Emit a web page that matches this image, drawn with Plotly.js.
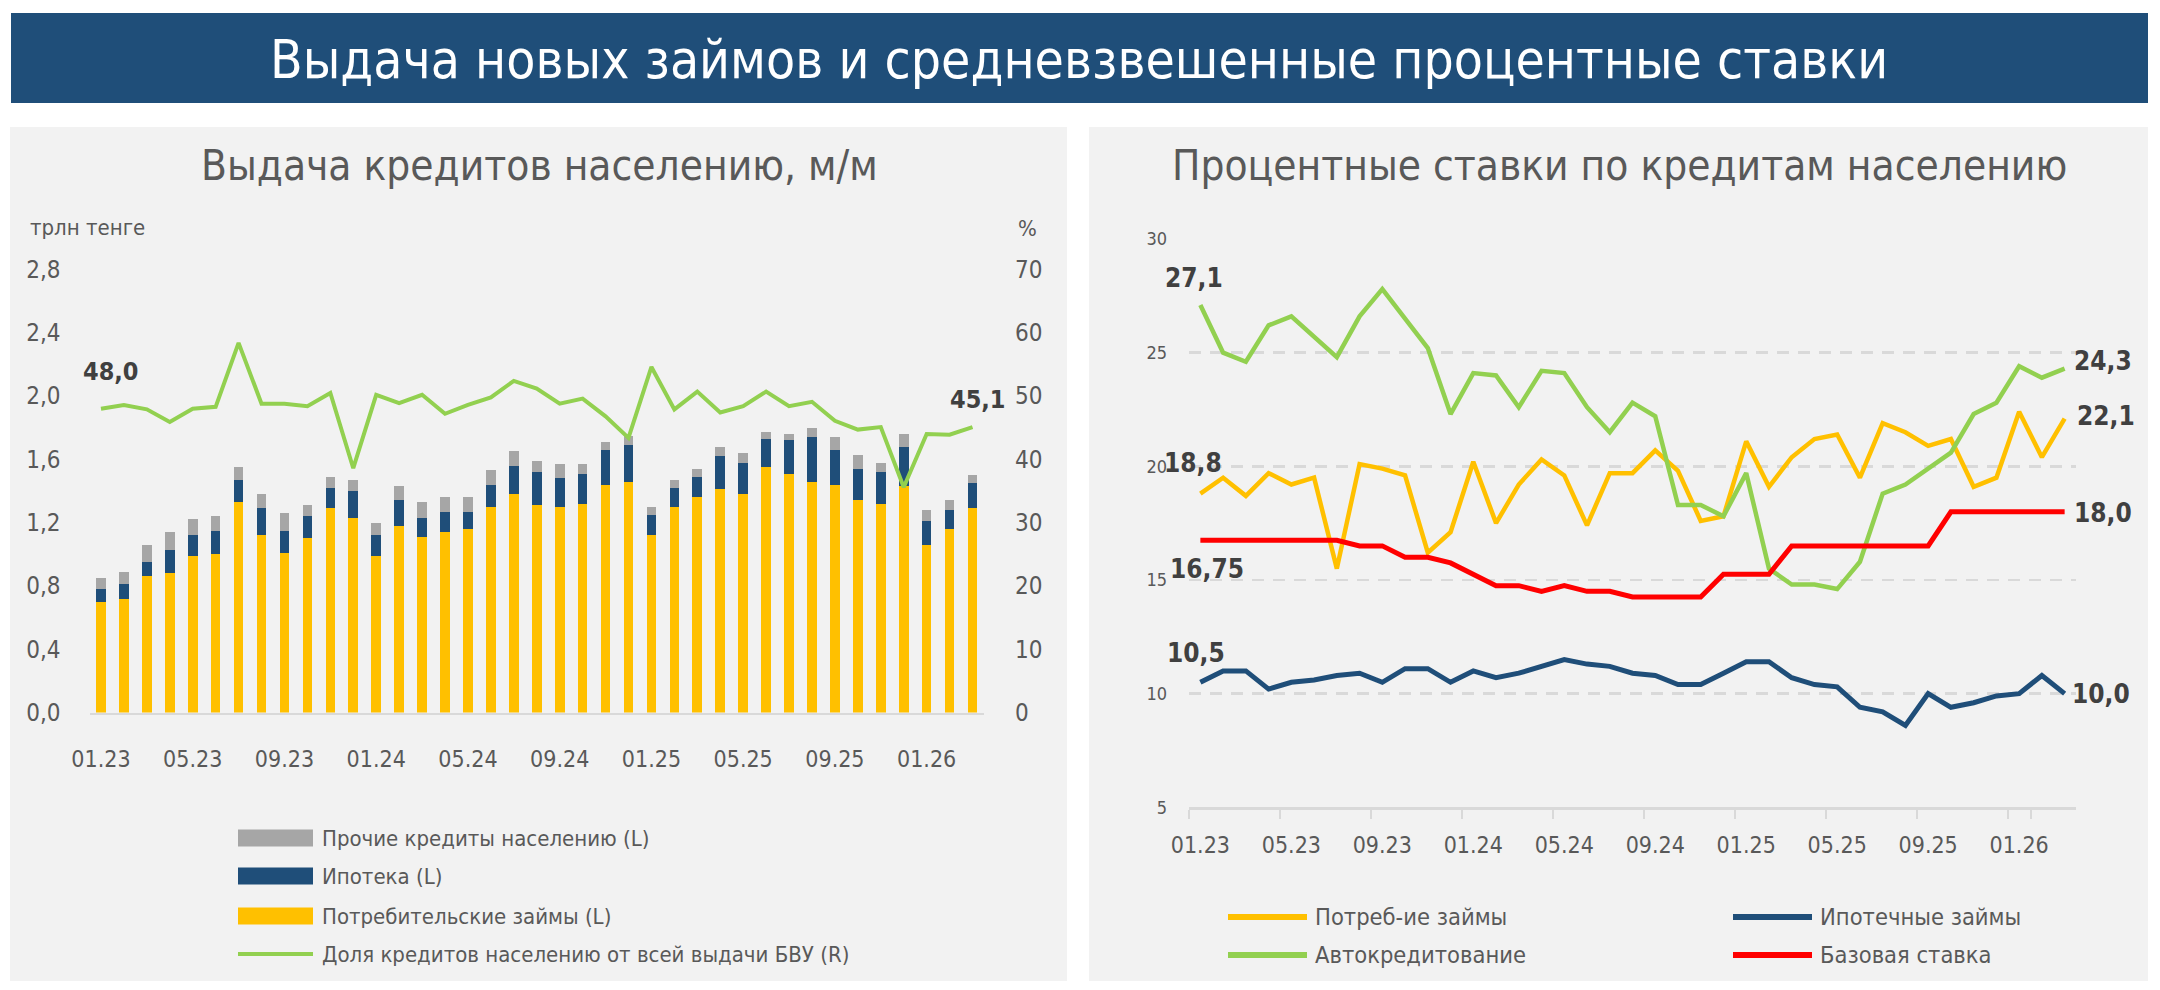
<!DOCTYPE html>
<html>
<head>
<meta charset="utf-8">
<script src="https://cdn.plot.ly/plotly-3.0.1.min.js"></script>
<style>
  html, body { margin: 0; padding: 0; background: #ffffff; }
  #chart { width: 2160px; height: 990px; }
</style>
</head>
<body>
<div id="chart"></div>
<script>
// ---- Months (01.23 … 03.26) ----
const months = [
  '01.23','02.23','03.23','04.23','05.23','06.23','07.23','08.23','09.23','10.23','11.23','12.23',
  '01.24','02.24','03.24','04.24','05.24','06.24','07.24','08.24','09.24','10.24','11.24','12.24',
  '01.25','02.25','03.25','04.25','05.25','06.25','07.25','08.25','09.25','10.25','11.25','12.25',
  '01.26','02.26','03.26'
];
const tickMonths = months.filter((m, i) => i % 4 === 0);

// ---- Left panel: monthly loan issuance to individuals, trillion tenge ----
const consumerLoans = [0.70,0.72,0.86,0.88,0.99,1.00,1.33,1.12,1.01,1.10,1.29,1.23,
                       0.99,1.18,1.11,1.14,1.16,1.30,1.38,1.31,1.30,1.32,1.44,1.46,
                       1.12,1.30,1.36,1.41,1.38,1.55,1.51,1.46,1.44,1.34,1.32,1.43,
                       1.06,1.16,1.29];
const mortgageLoans = [0.08,0.09,0.09,0.15,0.13,0.15,0.14,0.17,0.14,0.14,0.13,0.17,
                       0.13,0.16,0.12,0.13,0.11,0.14,0.18,0.21,0.18,0.19,0.22,0.23,
                       0.13,0.12,0.13,0.21,0.20,0.18,0.21,0.28,0.22,0.20,0.20,0.25,
                       0.15,0.12,0.16];
const otherLoans    = [0.07,0.08,0.11,0.11,0.10,0.09,0.08,0.09,0.11,0.07,0.07,0.07,
                       0.08,0.09,0.10,0.09,0.09,0.09,0.09,0.07,0.09,0.06,0.05,0.06,
                       0.05,0.05,0.05,0.06,0.06,0.04,0.04,0.06,0.08,0.09,0.06,0.08,
                       0.07,0.06,0.05];
// share of retail loans in all bank issuance, %
const retailShare   = [48.0,48.6,47.9,45.9,48.0,48.3,58.4,48.8,48.8,48.4,50.5,38.6,
                       50.2,48.9,50.2,47.2,48.6,49.8,52.4,51.2,48.8,49.6,46.8,43.4,
                       54.6,47.9,50.7,47.4,48.4,50.7,48.4,49.1,46.1,44.7,45.1,35.6,
                       44.0,43.9,45.1];

// ---- Right panel: interest rates on retail loans, % ----
const rateConsumer = [18.8,19.5,18.7,19.7,19.2,19.5,15.5,20.1,19.9,19.6,16.2,17.1,
                      20.2,17.5,19.2,20.3,19.6,17.4,19.7,19.7,20.7,19.8,17.6,17.8,
                      21.1,19.1,20.4,21.2,21.4,19.5,21.9,21.5,20.9,21.2,19.1,19.5,
                      22.4,20.4,22.1];
const rateMortgage = [10.5,11.0,11.0,10.2,10.5,10.6,10.8,10.9,10.5,11.1,11.1,10.5,
                      11.0,10.7,10.9,11.2,11.5,11.3,11.2,10.9,10.8,10.4,10.4,10.9,
                      11.4,11.4,10.7,10.4,10.3,9.4,9.2,8.6,10.0,9.4,9.6,9.9,
                      10.0,10.8,10.0];
const rateAuto     = [27.1,25.0,24.6,26.2,26.6,25.7,24.8,26.6,27.8,26.5,25.2,22.3,
                      24.1,24.0,22.6,24.2,24.1,22.6,21.5,22.8,22.2,18.3,18.3,17.8,
                      19.7,15.5,14.8,14.8,14.6,15.8,18.8,19.2,19.9,20.6,22.3,22.8,
                      24.4,23.9,24.3];
const baseRate     = [16.75,16.75,16.75,16.75,16.75,16.75,16.75,16.5,16.5,16.0,16.0,15.75,
                      15.25,14.75,14.75,14.5,14.75,14.5,14.5,14.25,14.25,14.25,14.25,15.25,
                      15.25,15.25,16.5,16.5,16.5,16.5,16.5,16.5,16.5,18.0,18.0,18.0,
                      18.0,18.0,18.0];

// ---- Texts ----
const pageTitle   = 'Выдача новых займов и средневзвешенные процентные ставки';
const leftTitle   = 'Выдача кредитов населению, м/м';
const rightTitle  = 'Процентные ставки по кредитам населению';
const leftUnit    = 'трлн тенге';
const rightUnit   = '%';
const issueNames  = ['Прочие кредиты населению (L)', 'Ипотека (L)', 'Потребительские займы (L)',
                     'Доля кредитов населению от всей выдачи БВУ (R)'];
const rateNames   = ['Потреб-ие займы', 'Ипотечные займы', 'Автокредитование', 'Базовая ставка'];

// ---- Styling ----
const FONT = '"Liberation Sans Narrow", "DejaVu Sans Condensed", "Roboto Condensed", "Arial Narrow", Roboto, sans-serif';
const C = {
  yellow: '#FFC000', navy: '#1F4E79', grey: '#A6A6A6', green: '#92D050', red: '#FF0000',
  text: '#595959', label: '#404040', panel: '#F2F2F2', axis: '#D9D9D9'
};
const W = 2160, H = 990;
const px = v => v / W;          // pixel -> paper x
const py = v => 1 - v / H;      // pixel -> paper y (from top)

const fmt = v => (Math.abs(v * 10 - Math.round(v * 10)) < 1e-9 ? v.toFixed(1) : v.toFixed(2)).replace('.', ',');

// ---- Traces ----
const traces = [
  { type: 'bar', name: issueNames[2], x: months, y: consumerLoans, xaxis: 'x', yaxis: 'y',
    marker: { color: C.yellow } },
  { type: 'bar', name: issueNames[1], x: months, y: mortgageLoans, xaxis: 'x', yaxis: 'y',
    marker: { color: C.navy } },
  { type: 'bar', name: issueNames[0], x: months, y: otherLoans, xaxis: 'x', yaxis: 'y',
    marker: { color: C.grey } },
  { type: 'scatter', mode: 'lines', name: issueNames[3], x: months, y: retailShare,
    xaxis: 'x', yaxis: 'y2', line: { color: C.green, width: 4 } },

  { type: 'scatter', mode: 'lines', name: rateNames[0], x: months, y: rateConsumer,
    xaxis: 'x2', yaxis: 'y3', line: { color: C.yellow, width: 4.5 } },
  { type: 'scatter', mode: 'lines', name: rateNames[2], x: months, y: rateAuto,
    xaxis: 'x2', yaxis: 'y3', line: { color: C.green, width: 4.5 } },
  { type: 'scatter', mode: 'lines', name: rateNames[3], x: months, y: baseRate,
    xaxis: 'x2', yaxis: 'y3', line: { color: C.red, width: 5 } },
  { type: 'scatter', mode: 'lines', name: rateNames[1], x: months, y: rateMortgage,
    xaxis: 'x2', yaxis: 'y3', line: { color: C.navy, width: 5 } }
];

const tickFont = size => ({ family: FONT, size: size, color: C.text });

// ---- Shapes: banner, panels, legend keys ----
const shapes = [
  { type: 'rect', xref: 'paper', yref: 'paper', layer: 'below', line: { width: 0 },
    x0: px(11), x1: px(2148), y0: py(103), y1: py(13), fillcolor: C.navy },
  { type: 'rect', xref: 'paper', yref: 'paper', layer: 'below', line: { width: 0 },
    x0: px(10), x1: px(1067), y0: py(981), y1: py(127), fillcolor: C.panel },
  { type: 'rect', xref: 'paper', yref: 'paper', layer: 'below', line: { width: 0 },
    x0: px(1089), x1: px(2148), y0: py(981), y1: py(127), fillcolor: C.panel }
];

// left legend keys
const leftKeyRows = [838, 876, 916, 954];
const leftKeyColors = [C.grey, C.navy, C.yellow];
leftKeyColors.forEach((col, i) => {
  shapes.push({ type: 'rect', xref: 'paper', yref: 'paper', line: { width: 0 }, fillcolor: col,
    x0: px(238), x1: px(313), y0: py(leftKeyRows[i] + 8.5), y1: py(leftKeyRows[i] - 8.5) });
});
shapes.push({ type: 'line', xref: 'paper', yref: 'paper', line: { color: C.green, width: 4 },
  x0: px(238), x1: px(313), y0: py(leftKeyRows[3]), y1: py(leftKeyRows[3]) });

// right legend keys (2 x 2)
const rightKeys = [
  { col: 0, row: 0, color: C.yellow, name: rateNames[0] },
  { col: 1, row: 0, color: C.navy,   name: rateNames[1] },
  { col: 0, row: 1, color: C.green,  name: rateNames[2] },
  { col: 1, row: 1, color: C.red,    name: rateNames[3] }
];
const rkX = [1228, 1733], rkY = [917, 955];
rightKeys.forEach(k => {
  shapes.push({ type: 'line', xref: 'paper', yref: 'paper', line: { color: k.color, width: 6 },
    x0: px(rkX[k.col]), x1: px(rkX[k.col] + 79), y0: py(rkY[k.row]), y1: py(rkY[k.row]) });
});

// ---- Annotations ----
const ann = [];
const textAt = (text, x, y, size, color, xanchor) => ({
  text: text, xref: 'paper', yref: 'paper', x: px(x), y: py(y), showarrow: false,
  xanchor: xanchor || 'center', yanchor: 'middle', font: { family: FONT, size: size, color: color }
});

ann.push(textAt(pageTitle, 1079, 60, 53, '#FFFFFF'));
ann.push(textAt(leftTitle, 539, 166, 42, C.text));
ann.push(textAt(rightTitle, 1619, 166, 42, C.text));
ann.push(textAt(leftUnit, 28, 227, 22, C.text, 'left'));
ann.push(textAt(rightUnit, 1039, 228, 22, C.text, 'right'));

issueNames.forEach((n, i) => {
  ann.push(textAt(n, 320, leftKeyRows[i], 22, C.text, 'left'));
});
rightKeys.forEach(k => {
  ann.push(textAt(k.name, rkX[k.col] + 85, rkY[k.row], 23.5, C.text, 'left'));
});

// value labels at the first and last points (category axes take the point index)
const last = months.length - 1;
const valueLabel = (xa, ya, idx, series, dx, dy, size) => ({
  xref: xa, yref: ya, x: idx, y: series[idx], text: '<b>' + fmt(series[idx]) + '</b>',
  showarrow: false, xanchor: 'left', yanchor: 'middle', xshift: dx, yshift: dy,
  font: { family: FONT, size: size, color: C.label }
});
ann.push(valueLabel('x', 'y2', 0, retailShare, -20, 37, 25));
ann.push(valueLabel('x', 'y2', last, retailShare, -25, 28, 25));

ann.push(valueLabel('x2', 'y3', 0, rateAuto, -37, 27, 26));
ann.push(valueLabel('x2', 'y3', 0, rateConsumer, -38, 31, 26));
ann.push(valueLabel('x2', 'y3', 0, baseRate, -32, -29, 26));
ann.push(valueLabel('x2', 'y3', 0, rateMortgage, -35, 29, 26));
ann.push(valueLabel('x2', 'y3', last, rateAuto, 7, 8, 26));
ann.push(valueLabel('x2', 'y3', last, rateConsumer, 10, 3, 26));
ann.push(valueLabel('x2', 'y3', last, baseRate, 7, -1, 26));
ann.push(valueLabel('x2', 'y3', last, rateMortgage, 5, 0, 26));

// ---- Layout ----
const layout = {
  width: W, height: H,
  margin: { l: 0, r: 0, t: 0, b: 0, pad: 0 },
  paper_bgcolor: '#FFFFFF',
  plot_bgcolor: 'rgba(0,0,0,0)',
  separators: ', ',
  showlegend: false,
  barmode: 'stack',
  bargap: 0.58,
  font: { family: FONT, color: C.text },

  xaxis: {
    domain: [px(89.5), px(984)], anchor: 'y', type: 'category', range: [-0.5, 38.5],
    tickmode: 'array', tickvals: tickMonths, ticktext: tickMonths, ticks: '', tickangle: 0,
    showline: true, linecolor: C.axis, linewidth: 2.5, showgrid: false, zeroline: false,
    tickfont: tickFont(23), ticklabelstandoff: 24
  },
  yaxis: {
    domain: [py(712.5), py(269.5)], anchor: 'x', range: [0, 2.8], dtick: 0.4, tick0: 0,
    tickformat: '.1f', showgrid: false, zeroline: false, showline: false, ticks: '',
    tickfont: tickFont(24), ticklabelstandoff: 28
  },
  yaxis2: {
    overlaying: 'y', anchor: 'x', side: 'right', range: [0, 70], dtick: 10, tick0: 0,
    showgrid: false, zeroline: false, showline: false, ticks: '',
    tickfont: tickFont(24), ticklabelstandoff: 30
  },

  xaxis2: {
    domain: [px(1189), px(2076)], anchor: 'y3', type: 'category', range: [-0.5, 38.5],
    tickmode: 'array', tickvals: tickMonths, ticktext: tickMonths, tickson: 'boundaries',
    ticks: 'outside', ticklen: 9, tickwidth: 2, tickcolor: C.axis, tickangle: 0,
    showline: true, linecolor: C.axis, linewidth: 2.5, showgrid: false, zeroline: false,
    tickfont: tickFont(23), ticklabelstandoff: 16
  },
  yaxis3: {
    domain: [py(807.3), py(239)], anchor: 'x2', range: [5, 30], dtick: 5, tick0: 5,
    showgrid: true, gridcolor: C.axis, gridwidth: 2.5, griddash: '12px,9px',
    zeroline: false, showline: false, ticks: '',
    tickfont: tickFont(18), ticklabelstandoff: 21
  },

  shapes: shapes,
  annotations: ann
};

Plotly.newPlot('chart', traces, layout, { displayModeBar: false, staticPlot: true });
</script>
</body>
</html>
